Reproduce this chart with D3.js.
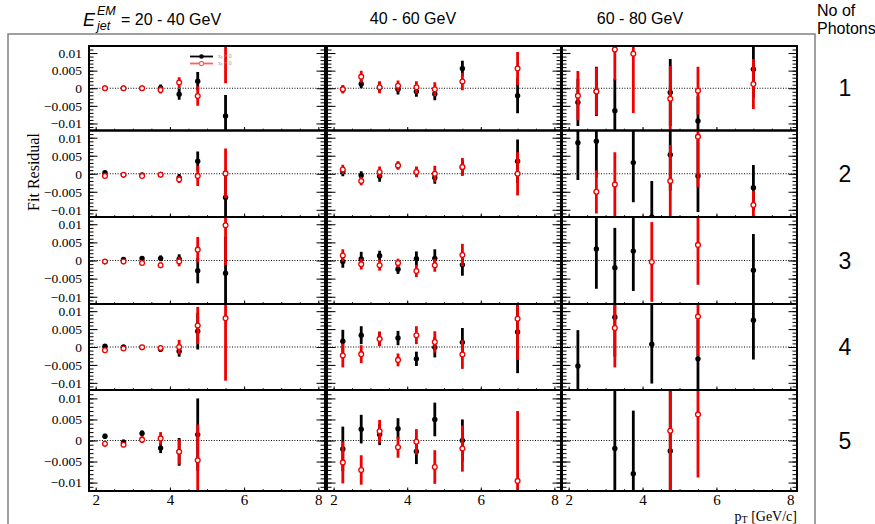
<!DOCTYPE html>
<html>
<head>
<meta charset="utf-8">
<script src="https://cdn.jsdelivr.net/npm/d3@7"></script>
<style>
  body { margin: 0; background: #fff; }
  svg { display: block; }
</style>
</head>
<body>
<svg id="chart" width="875" height="524"></svg>
<script>
// pT bin centres (GeV/c)
var binsX = [2.25, 2.75, 3.25, 3.75, 4.25, 4.75, 5.5, 7.0];
var energyTitles = ["= 20 - 40 GeV", "40 - 60 GeV", "60 - 80 GeV"];
var photonLabels = ["1", "2", "3", "4", "5"];
var yTickValues = [-0.01, -0.005, 0, 0.005, 0.01];
var yTickLabels = ["\u22120.01", "\u22120.005", "0", "0.005", "0.01"];
var xTickValues = [2, 4, 6, 8];

// residuals per photon row: [column 20-40, 40-60, 60-80][bin]
// xF > 0 (black) and xF < 0 (red)
var posVal1 = [[0, 0, 0, 0.0001, -0.0017, 0.002, -0.0079, null],
               [-0.0003, 0.0012, 0.0003, -0.0003, -0.0009, -0.0016, 0.0056, -0.0021],
               [-0.004, -0.0009, -0.0064, null, null, -0.0012, -0.0093, 0.0054]];
var posErr1 = [[0.0004, 0.0004, 0.0004, 0.001, 0.0016, 0.0026, 0.006, null],
               [0.001, 0.0012, 0.0015, 0.0015, 0.0015, 0.0018, 0.0022, 0.005],
               [0.0067, 0.007, 0.009, null, null, 0.0095, 0.007, 0.008]];
var negVal1 = [[0, 0, 0, -0.0005, 0.0016, -0.0022, 0.016, null],
               [-0.0003, 0.0033, 0.0003, 0.0007, 0.0003, -0.0003, 0.0019, 0.0056],
               [-0.0021, -0.0009, 0.011, 0.0098, null, -0.003, -0.0007, 0.0012]];
var negErr1 = [[0.0004, 0.0004, 0.0004, 0.001, 0.0015, 0.0028, 0.0146, null],
               [0.0012, 0.0017, 0.0017, 0.0015, 0.0017, 0.002, 0.0025, 0.0047],
               [0.007, 0.0068, 0.0087, 0.0168, null, 0.0093, 0.0068, 0.0071]];

var posVal2 = [[0.0003, -0.0003, -0.0003, -0.0002, -0.0011, 0.0035, -0.0066, null],
               [0.0005, -0.0005, -0.0007, 0.0023, 0.0005, -0.0011, 0.0017, 0.0035],
               [0.0086, 0.009, null, 0.0031, -0.012, 0.0053, -0.0006, -0.0039]];
var posErr2 = [[0.0005, 0.0004, 0.0004, 0.0004, 0.001, 0.0027, 0.006, null],
               [0.0012, 0.0012, 0.0015, 0.001, 0.0013, 0.0017, 0.002, 0.006],
               [0.0103, 0.01, null, 0.011, 0.01, 0.01, 0.01, 0.0063]];
var negVal2 = [[-0.0006, -0.0003, -0.0006, -0.0003, -0.0016, -0.0006, 0.0001, null],
               [0.0012, -0.002, 0.0005, 0.0023, 0.0005, 0, 0.0019, 0],
               [null, -0.005, -0.003, null, null, -0.002, 0.0103, -0.0087]];
var negErr2 = [[0.0005, 0.0004, 0.0004, 0.0004, 0.001, 0.0028, 0.0069, null],
               [0.0013, 0.0012, 0.0015, 0.0012, 0.0015, 0.0022, 0.0025, 0.006],
               [null, 0.006, 0.009, null, null, 0.01, 0.014, 0.004]];

var posVal3 = [[-0.0003, 0.0003, 0.0006, 0.0006, 0.0004, -0.0028, -0.0035, null],
               [-0.0003, 0.0004, 0.0013, -0.0024, 0.0005, 0.0006, -0.0012, null],
               [null, 0.0032, -0.002, 0.0026, null, null, null, -0.0027]];
var posErr3 = [[0.0004, 0.0004, 0.0005, 0.0008, 0.0013, 0.0035, 0.01, null],
               [0.0017, 0.002, 0.0014, 0.0013, 0.002, 0.0025, 0.003, null],
               [null, 0.011, 0.011, 0.011, null, null, null, 0.01]];
var negVal3 = [[-0.0003, -0.0003, -0.0007, -0.0013, -0.0003, 0.003, 0.0097, null],
               [0.0014, -0.001, -0.0013, -0.0007, -0.0029, -0.0013, 0.0015, null],
               [null, null, null, null, -0.0004, null, 0.0043, null]];
var negErr3 = [[0.0004, 0.0004, 0.0005, 0.0008, 0.0013, 0.0035, 0.011, null],
               [0.0017, 0.0015, 0.0015, 0.0012, 0.0017, 0.0018, 0.0031, null],
               [null, null, null, null, 0.011, null, 0.011, null]];

var posVal4 = [[0.0002, 0, -0.0001, -0.0006, -0.0012, 0.0044, null, null],
               [0.0016, 0.0033, 0.0023, 0.0025, -0.0033, -0.0001, 0.0013, 0.0042],
               [-0.0053, null, 0.0083, null, 0.0008, null, -0.0033, 0.0075]];
var posErr4 = [[0.0004, 0.0004, 0.0004, 0.0008, 0.0015, 0.0051, null, null],
               [0.0032, 0.0025, 0.002, 0.002, 0.002, 0.0028, 0.004, 0.0115],
               [0.01, null, 0.011, null, 0.011, null, 0.011, 0.011]];
var negVal4 = [[-0.0009, -0.0004, -0.0001, -0.0003, 0, 0.006, 0.008, null],
               [-0.0024, -0.002, 0.0022, -0.0036, 0.0033, 0.0014, -0.0021, 0.0079],
               [null, null, 0.0053, null, null, null, 0.0085, null]];
var negErr4 = [[0.0004, 0.0004, 0.0004, 0.0008, 0.002, 0.0052, 0.0174, null],
               [0.0033, 0.0025, 0.002, 0.0018, 0.0025, 0.003, 0.004, 0.0115],
               [null, null, 0.011, null, null, null, 0.011, null]];

var posVal5 = [[0.001, -0.0004, 0.0017, -0.0018, -0.0027, 0.0014, null, null],
               [-0.002, 0.0027, 0.0014, 0.0028, -0.0026, 0.005, 0, null],
               [null, null, -0.0019, -0.0079, null, -0.0025, null, null]];
var posErr5 = [[0.0006, 0.0006, 0.0007, 0.0012, 0.0033, 0.0086, null, null],
               [0.0053, 0.0034, 0.0025, 0.0025, 0.003, 0.004, 0.005, null],
               [null, null, 0.015, 0.015, null, 0.015, null, null]];
var negVal5 = [[-0.0008, -0.001, 0.0002, 0.0005, -0.0027, -0.0047, null, null],
               [-0.0052, -0.007, 0.0022, -0.0016, -0.0003, -0.0063, -0.0019, -0.0096],
               [null, null, null, null, null, 0.0023, 0.0062, null]];
var negErr5 = [[0.0006, 0.0006, 0.0008, 0.0015, 0.003, 0.0085, null, null],
               [0.005, 0.0035, 0.0027, 0.0025, 0.003, 0.004, 0.0055, 0.0166],
               [null, null, null, null, null, 0.015, 0.015, null]];

var rows = [
  [posVal1, posErr1, negVal1, negErr1],
  [posVal2, posErr2, negVal2, negErr2],
  [posVal3, posErr3, negVal3, negErr3],
  [posVal4, posErr4, negVal4, negErr4],
  [posVal5, posErr5, negVal5, negErr5]
];

var svg = d3.select("#chart");
var rowEdges = [46, 130.5, 217, 304, 390, 491];
var colEdges = [[89, 325], [327, 561], [562, 797]];
var serif = "'Liberation Serif', 'Times New Roman', serif",
    sans = "'Liberation Sans', Arial, Helvetica, sans-serif";

svg.append("rect").attr("width", 875).attr("height", 524).attr("fill", "#fff");

// outer frame of the canvas
svg.append("rect")
    .attr("x", 8).attr("y", 34).attr("width", 807).attr("height", 500)
    .attr("fill", "none").attr("stroke", "#808080").attr("stroke-width", 1.5);

var defs = svg.append("defs");

function drawSeries(g, vals, errs, x, y, color, open) {
    var pts = [];
    binsX.forEach(function (b, i) {
        if (vals[i] !== null && vals[i] !== undefined) pts.push({ x: b, v: vals[i], e: errs[i] });
    });
    g.selectAll(null).data(pts).enter().append("line")
        .attr("x1", function (d) { return x(d.x); })
        .attr("x2", function (d) { return x(d.x); })
        .attr("y1", function (d) { return y(d.v - d.e); })
        .attr("y2", function (d) { return y(d.v + d.e); })
        .attr("stroke", color).attr("stroke-width", 2.8);
    g.selectAll(null).data(pts).enter().append("circle")
        .attr("cx", function (d) { return x(d.x); })
        .attr("cy", function (d) { return y(d.v); })
        .attr("r", open ? 2.4 : 2.7)
        .attr("fill", open ? "#fff" : color)
        .attr("stroke", color).attr("stroke-width", open ? 1.3 : 0);
}

rows.forEach(function (rowData, r) {
    var top = rowEdges[r], bottom = rowEdges[r + 1];
    var y = d3.scaleLinear().domain([-0.012, 0.012]).range([bottom, top]);
    colEdges.forEach(function (ce, c) {
        var x = d3.scaleLinear().domain([1.82, 8.18]).range([ce[0], ce[1]]);
        var id = "clip" + r + "_" + c;
        defs.append("clipPath").attr("id", id).append("rect")
            .attr("x", ce[0]).attr("y", top).attr("width", ce[1] - ce[0]).attr("height", bottom - top);
        var panel = svg.append("g");

        // zero line
        panel.append("line")
            .attr("x1", ce[0]).attr("x2", ce[1]).attr("y1", y(0)).attr("y2", y(0))
            .attr("stroke", "#000").attr("stroke-width", 1).attr("stroke-dasharray", "1,1.6");

        // y ticks (left and right, inside) major + minor
        var yMinor = d3.range(-11, 12).map(function (k) { return k * 0.001; });
        panel.append("g").attr("transform", "translate(" + ce[0] + ",0)")
            .call(d3.axisRight(y).tickValues(yMinor).tickSize(4.5).tickFormat(""));
        panel.append("g").attr("transform", "translate(" + ce[0] + ",0)")
            .call(d3.axisRight(y).tickValues(yTickValues).tickSize(8.5).tickFormat(""));
        panel.append("g").attr("transform", "translate(" + ce[1] + ",0)")
            .call(d3.axisLeft(y).tickValues(yMinor).tickSize(4.5).tickFormat(""));
        panel.append("g").attr("transform", "translate(" + ce[1] + ",0)")
            .call(d3.axisLeft(y).tickValues(yTickValues).tickSize(8.5).tickFormat(""));

        // x ticks (bottom, inside)
        panel.append("g").attr("transform", "translate(0," + bottom + ")")
            .call(d3.axisTop(x).tickValues(d3.range(2, 8.01, 0.5)).tickSize(1.8).tickFormat(""));
        panel.append("g").attr("transform", "translate(0," + bottom + ")")
            .call(d3.axisTop(x).tickValues(xTickValues).tickSize(3.5).tickFormat(""));

        panel.selectAll(".domain").remove();
        panel.selectAll(".tick line").attr("stroke", "#000").attr("stroke-width", 1);

        // points
        var marks = panel.append("g").attr("clip-path", "url(#" + id + ")");
        drawSeries(marks, rowData[0][c], rowData[1][c], x, y, "#000", false);
        drawSeries(marks, rowData[2][c], rowData[3][c], x, y, "#f00000", true);

        // frame
        panel.append("rect")
            .attr("x", ce[0]).attr("y", top).attr("width", ce[1] - ce[0]).attr("height", bottom - top)
            .attr("fill", "none").attr("stroke", "#000").attr("stroke-width", 2);

        // y labels on first column
        if (c === 0) {
            panel.append("g").attr("transform", "translate(" + (ce[0] - 4) + ",0)")
                .call(d3.axisLeft(y).tickValues(yTickValues).tickSize(0)
                    .tickFormat(function (d, i) { return yTickLabels[i]; }))
                .call(function (g) { g.select(".domain").remove(); })
                .selectAll("text")
                .attr("font-family", serif).attr("font-size", 13.5).attr("fill", "#000");
        }

        // x labels on bottom row
        if (r === rows.length - 1) {
            panel.append("g").attr("transform", "translate(0," + bottom + ")")
                .call(d3.axisBottom(x).tickValues(xTickValues).tickSize(0).tickFormat(d3.format("d")))
                .call(function (g) { g.select(".domain").remove(); })
                .selectAll("text")
                .attr("font-family", serif).attr("font-size", 15).attr("fill", "#000");
        }

        // legend in first panel
        if (r === 0 && c === 0) {
            var lg = panel.append("g").attr("transform", "translate(" + (ce[0] + 101) + "," + (top + 10.5) + ")");
            lg.append("line").attr("x1", 0).attr("x2", 23).attr("y1", 0).attr("y2", 0)
                .attr("stroke", "#000").attr("stroke-width", 1.8);
            lg.append("circle").attr("cx", 11.5).attr("cy", 0).attr("r", 2.3).attr("fill", "#000");
            lg.append("line").attr("x1", 0).attr("x2", 23).attr("y1", 7).attr("y2", 7)
                .attr("stroke", "#ff6060").attr("stroke-width", 1.8);
            lg.append("circle").attr("cx", 11.5).attr("cy", 7).attr("r", 2.1)
                .attr("fill", "#fff").attr("stroke", "#ff6060").attr("stroke-width", 1.1);
            var lt = lg.append("text").attr("x", 28).attr("y", 1.8)
                .attr("font-family", serif).attr("font-size", 5.5).attr("fill", "#999");
            lt.append("tspan").text("x");
            lt.append("tspan").attr("font-size", 4).attr("dy", 1).text("F");
            lt.append("tspan").attr("dy", -1).text(" > 0");
            var lt2 = lg.append("text").attr("x", 28).attr("y", 8.8)
                .attr("font-family", serif).attr("font-size", 5.5).attr("fill", "#999");
            lt2.append("tspan").text("x");
            lt2.append("tspan").attr("font-size", 4).attr("dy", 1).text("F");
            lt2.append("tspan").attr("dy", -1).text(" < 0");
        }
    });

    // photon multiplicity label
    svg.append("text")
        .attr("x", 845).attr("y", (top + bottom) / 2 + 8)
        .attr("text-anchor", "middle")
        .attr("font-family", sans).attr("font-size", 23).attr("fill", "#000")
        .text(photonLabels[r]);
});

// column titles
svg.append("text").attr("x", 83).attr("y", 26)
    .attr("font-family", sans).attr("font-size", 18).attr("font-style", "italic").text("E");
svg.append("text").attr("x", 97).attr("y", 15)
    .attr("font-family", sans).attr("font-size", 12.5).attr("font-style", "italic").text("EM");
svg.append("text").attr("x", 97).attr("y", 30)
    .attr("font-family", sans).attr("font-size", 12.5).attr("font-style", "italic").text("jet");
svg.append("text").attr("x", 121).attr("y", 25)
    .attr("font-family", sans).attr("font-size", 16).text(energyTitles[0]);

svg.append("text").attr("x", 413).attr("y", 24).attr("text-anchor", "middle")
    .attr("font-family", sans).attr("font-size", 16).text(energyTitles[1]);
svg.append("text").attr("x", 640).attr("y", 24).attr("text-anchor", "middle")
    .attr("font-family", sans).attr("font-size", 16).text(energyTitles[2]);

svg.append("text").attr("x", 817).attr("y", 16)
    .attr("font-family", sans).attr("font-size", 16).text("No of");
svg.append("text").attr("x", 817).attr("y", 34)
    .attr("font-family", sans).attr("font-size", 16).text("Photons");

// axis titles
svg.append("text")
    .attr("transform", "translate(39,172) rotate(-90)")
    .attr("text-anchor", "middle")
    .attr("font-family", serif).attr("font-size", 16).text("Fit Residual");

var xt = svg.append("text").attr("x", 797).attr("y", 521).attr("text-anchor", "end")
    .attr("font-family", serif).attr("font-size", 14);
xt.append("tspan").text("p");
xt.append("tspan").attr("font-size", 10).attr("dy", 1.5).text("T");
xt.append("tspan").attr("dy", -1.5).text(" [GeV/c]");
</script>
</body>
</html>
